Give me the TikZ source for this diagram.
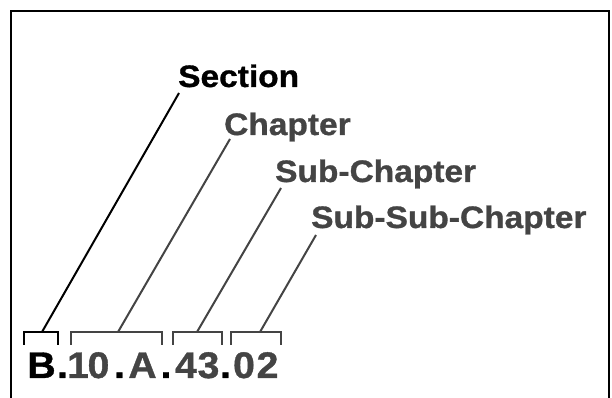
\documentclass[tikz,border=0pt]{standalone}
\usepackage{fontspec}
\newfontfamily\hb[FakeStretch=1.08,FakeBold=1.0]{Liberation Sans}
\newfontfamily\hbn[FakeStretch=1.06,FakeBold=1.0]{Liberation Sans}
\definecolor{dg}{HTML}{444444}
\begin{document}
\begin{tikzpicture}[x=1pt,y=1pt,
  lbl/.style={anchor=base west,inner sep=0pt,font=\hb\bfseries\fontsize{31}{31}\selectfont},
  num/.style={anchor=base,inner sep=0pt,font=\hbn\bfseries\fontsize{37}{37}\selectfont},
  brk/.style={line width=2.5pt},
  lead/.style={line width=2pt}]
\useasboundingbox (0,0) rectangle (612,398);
\fill[white] (0,0) rectangle (612,398);
% frame
\draw[line width=2.5pt] (11,-5) -- (11,387) -- (609,387) -- (609,-5);
% labels
\node[lbl] (sec) at (178,311) {Section};
\node[lbl,text=dg] (chap) at (224,263) {Chapter};
\node[lbl,text=dg] (sub) at (275,216) {Sub-Chapter};
\node[lbl,text=dg] (subsub) at (311,170) {Sub-Sub-Chapter};
% number
\node[num] (nB) at (41.5,20) {B};
\node[num] (d1) at (62.5,20) {.};
\node[num,text=dg] (n1) at (78,20) {1};
\node[num,text=dg] (n0) at (98.5,20) {0};
\node[num] (d2) at (119.5,20) {.};
\node[num,text=dg] (nA) at (142.5,20) {A};
\node[num] (d3) at (166,20) {.};
\node[num,text=dg] (n4) at (186,20) {4};
\node[num,text=dg] (n3) at (208.5,20) {3};
\node[num] (d4) at (225.5,20) {.};
\node[num,text=dg] (n0b) at (244,20) {0};
\node[num,text=dg] (n2) at (267.5,20) {2};
% brackets
\draw[brk] (24,53) -- (24,66) -- (58,66) -- (58,53);
\draw[brk,dg] (71,53) -- (71,66) -- (162,66) -- (162,53);
\draw[brk,dg] (173,53) -- (173,66) -- (222,66) -- (222,53);
\draw[brk,dg] (231,53) -- (231,66) -- (281,66) -- (281,53);
\coordinate (b1) at (42,66);
\coordinate (b2) at (118,66);
\coordinate (b3) at (197,66);
\coordinate (b4) at (260,66);
\coordinate (t1) at (179,305);
\coordinate (t2) at (230,259);
\coordinate (t3) at (281,210);
\coordinate (t4) at (316,163);
\draw[lead] (b1) -- (t1);
\draw[lead,dg] (b2) -- (t2);
\draw[lead,dg] (b3) -- (t3);
\draw[lead,dg] (b4) -- (t4);
\end{tikzpicture}
\end{document}
